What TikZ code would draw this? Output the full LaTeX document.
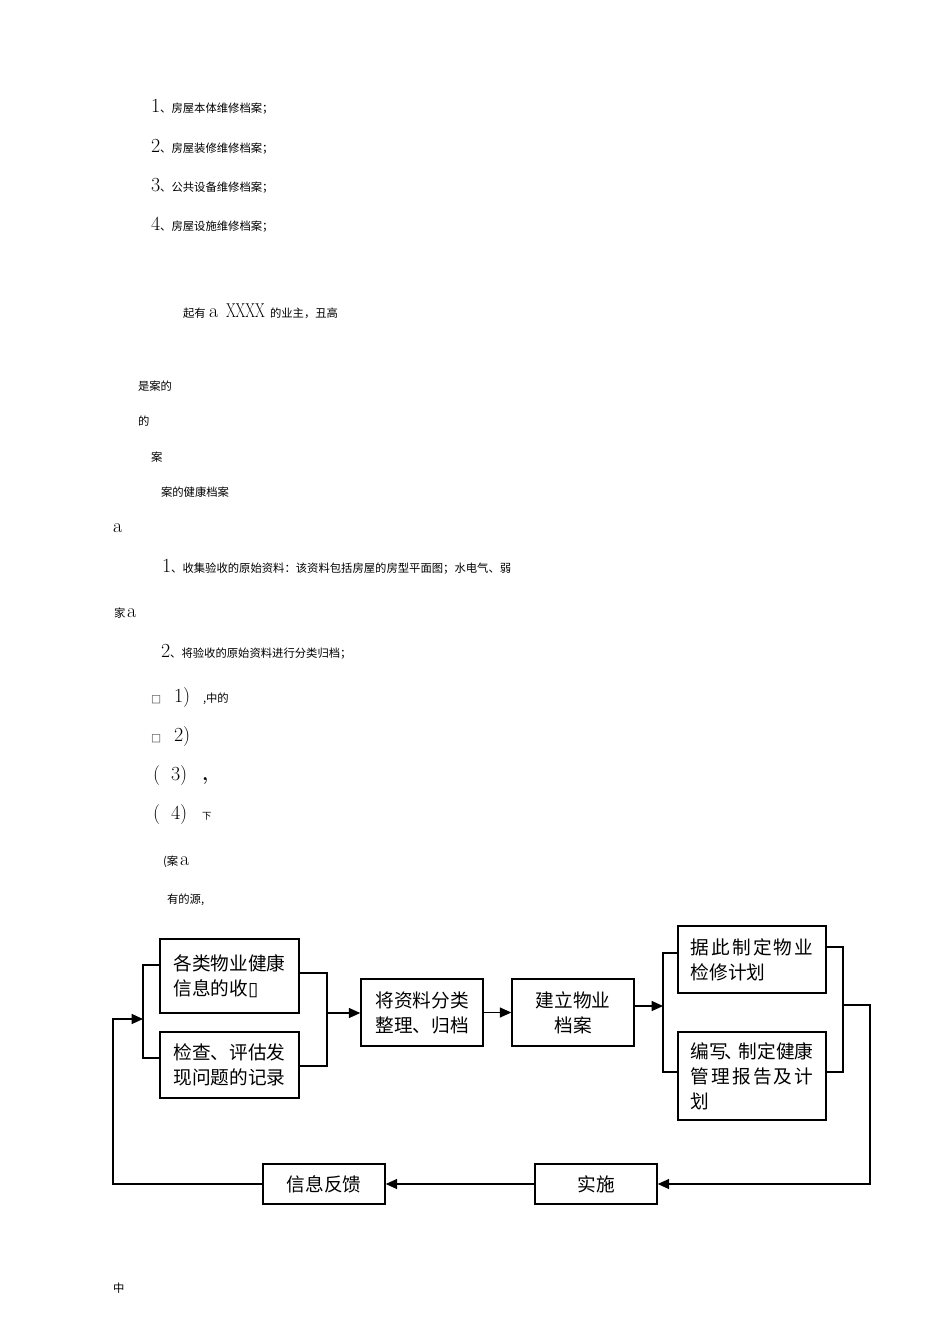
\documentclass[tikz,border=0pt]{standalone}
\usepackage{fontspec}
\usepackage{graphicx}
\newfontfamily\cjk{Noto Sans CJK SC}
\newfontfamily\djv{DejaVu Sans}
\usetikzlibrary{arrows.meta}
\newcommand\cjksm{\cjk\fontsize{8.5pt}{10pt}\selectfont}
\newcommand\cjktiny{\cjk\fontsize{7pt}{9pt}\selectfont}
\newcommand\latbig{\rmfamily\fontsize{15pt}{15pt}\selectfont}
\newcommand\latmid{\rmfamily\fontsize{15pt}{15pt}\selectfont}
\begin{document}
\begin{tikzpicture}[x=0.75pt,y=-0.75pt,
  txt/.style={anchor=base west,inner sep=0pt,outer sep=0pt},
  box/.style={draw=black,line width=1.1pt,fill=white,inner sep=0pt,
    font=\cjk\fontsize{14pt}{18.75pt}\selectfont},
  conn/.style={line width=0.8pt},
  arr/.style={conn,-{Triangle[length=8.5pt,width=7.5pt]}}]
\useasboundingbox (0,0) rectangle (950,1344);

% ---------- upper text ----------
\node[txt] (l1) at (151,113) {\latbig 1\cjksm 、房屋本体维修档案；};
\node[txt] (l2) at (151,153) {\latbig 2\cjksm 、房屋装修维修档案；};
\node[txt] (l3) at (151,192) {\latbig 3\cjksm 、公共设备维修档案；};
\node[txt] (l4) at (151,231) {\latbig 4\cjksm 、房屋设施维修档案；};

\node[txt] (p1a) at (183,317) {\cjksm 起有};
\node[txt] (p1b) at (209,317) {\latmid a};
\node[txt] (p1c) at (226,317) {\latmid\scalebox{0.7}[1]{XXXX}};
\node[txt] (p1d) at (270,317) {\cjksm 的业主，丑高};

\node[txt] (q1) at (138,390) {\cjksm 是案的};
\node[txt] (q2) at (138,425) {\cjksm 的};
\node[txt] (q3) at (151,461) {\cjksm 案};
\node[txt] (q4) at (161,496) {\cjksm 案的健康档案};
\node[txt] (q5) at (113,532) {\latmid a};

\node[txt] (s1) at (162,572) {\latbig 1\cjksm 、收集验收的原始资料：该资料包括房屋的房型平面图；水电气、弱};
\node[txt] (s2a) at (114,617) {\cjksm 家};
\node[txt] (s2b) at (127,617) {\latmid a};
\node[txt] (s3) at (161,657) {\latbig 2\cjksm 、将验收的原始资料进行分类归档；};

\node[txt,text=black!70] (b1) at (151,702) {\djv\fontsize{8pt}{8pt}\selectfont □};
\node[txt] (n1) at (174,702) {\latbig 1)};
\node[txt] (n1t) at (203,702) {\cjksm ,中的};
\node[txt,text=black!70] (b2) at (151,741) {\djv\fontsize{8pt}{8pt}\selectfont □};
\node[txt] (n2) at (174,741) {\latbig 2)};
\node[txt] (o3) at (153,780) {\latbig (};
\node[txt] (n3) at (171,780) {\latbig 3)};
\node[txt] (n3t) at (202,780) {\latbig\bfseries ,};
\node[txt] (o4) at (153,819) {\latbig (};
\node[txt] (n4) at (171,819) {\latbig 4)};
\node[txt] (n4t) at (202,819) {\cjktiny 下};
\node[txt] (r1a) at (163,865) {\cjksm (案};
\node[txt] (r1b) at (180,865) {\latmid a};
\node[txt] (r2) at (167,903) {\cjksm 有的源,};
\node[txt] (zh) at (113,1292) {\cjksm 中};

% ---------- flowchart ----------
\node[box,minimum width=104.25pt,minimum height=55.5pt,align=left] (A) at (229.5,976)
  {各类物业健康\\信息的收{\djv ▯}};
\node[box,minimum width=104.25pt,minimum height=49.5pt,align=left] (B) at (229.5,1065)
  {检查、评估发\\现问题的记录};
\node[box,minimum width=91.5pt,minimum height=50.25pt,align=center] (C) at (422,1012.5)
  {将资料分类\\整理、归档};
\node[box,minimum width=91.5pt,minimum height=50.25pt,align=center] (D) at (573,1012.5)
  {建立物业\\档案};
\node[box,minimum width=111pt,minimum height=50.25pt,align=left] (E) at (752,959.5)
  {\makebox[92pt][s]{据\hfill 此\hfill 制\hfill 定\hfill 物\hfill 业}\\检修计划};
\node[box,minimum width=111pt,minimum height=66pt,align=left] (F) at (752,1076)
  {\makebox[92pt][s]{编写\kern-3pt、\kern-3pt 制定健康}\\
   \makebox[92pt][s]{管\hfill 理\hfill 报\hfill 告\hfill 及\hfill 计}\\划};
\node[box,minimum width=91.5pt,minimum height=30pt] (G) at (596,1184) {实施};
\node[box,minimum width=91.5pt,minimum height=30pt] (H) at (324,1184) {信息反馈};

% left bracket
\coordinate (lt) at (143,965);
\coordinate (lb) at (143,1058);
\draw[conn] (A.west|-lt) -- (lt) -- (lb) -- (B.west|-lb);
% feedback loop
\coordinate (fbin) at (143,1019);
\coordinate (fbc) at (113,1184);
\draw[arr] (H.west) -- (fbc) |- (fbin);
% right bracket of A/B
\coordinate (rt) at (327,973);
\coordinate (rb) at (327,1066);
\coordinate (rm) at (327,1013);
\draw[conn] (A.east|-rt) -- (rt) -- (rb) -- (B.east|-rb);
\draw[arr] (rm) -- (C.west|-rm);
\draw[arr] (C.east) -- (D.west);
% left bracket of E/F
\coordinate (et) at (663,953);
\coordinate (eb) at (663,1072);
\coordinate (em) at (663,1006);
\draw[conn] (E.west|-et) -- (et) -- (eb) -- (F.west|-eb);
\draw[arr] (D.east|-em) -- (em);
% right bracket of E/F
\coordinate (ft) at (843,947);
\coordinate (fb) at (843,1072);
\coordinate (fm) at (843,1005);
\coordinate (fr) at (870,1005);
\draw[conn,line width=1.4pt] (E.east|-ft) -- (ft) -- (fb) -- (F.east|-fb);
\draw[arr] (fm) -- (fr) |- (G.east);
\draw[arr] (G.west) -- (H.east);
\end{tikzpicture}
\end{document}
